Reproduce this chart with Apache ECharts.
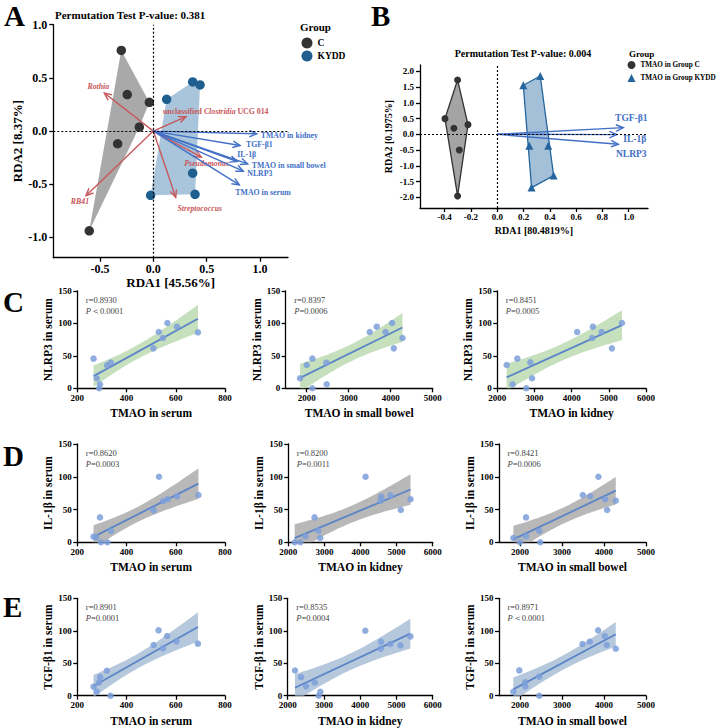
<!DOCTYPE html>
<html>
<head>
<meta charset="utf-8">
<script src="https://cdn.jsdelivr.net/npm/echarts@6/dist/echarts.min.js"></script>
<style>
  html, body { margin: 0; padding: 0; background: #fff; }
  #main { width: 719px; height: 728px; }
</style>
</head>
<body>
<div id="main"></div>
<script>
// ---------- panel A : RDA (microbiota) ----------
const aGroupC = [[-0.300, 0.758], [-0.244, 0.343], [-0.037, 0.270], [-0.131, 0.038], [-0.334, -0.119], [-0.600, -0.937]]
const aGroupKYDD = [[0.125, 0.299], [0.369, 0.462], [0.438, 0.434], [0.369, -0.396], [-0.025, -0.604], [0.391, -0.594]]
const aBacteria = ['Rothia', 'RB41', 'unclassified Clostridia UCG 014', 'Pseudomonas', 'Streptococcus']
const aBacX = [-0.459, -0.631, 0.306, 0.450, 0.210]
const aBacY = [0.358, -0.607, 0.136, -0.245, -0.623]
const aFactors = ['TMAO in kidney', 'TGF-β1', 'IL-1β', 'TMAO in small bowel', 'NLRP3', 'TMAO in serum']
const aFacX = [0.969, 0.813, 0.787, 0.885, 0.843, 0.806]
const aFacY = [-0.025, -0.135, -0.286, -0.308, -0.377, -0.506]

// ---------- panel B : RDA (TMAO groups) ----------
const bGroupC = [[-0.302, 1.725], [-0.398, 0.497], [-0.330, 0.190], [-0.223, 0.307], [-0.289, -0.497], [-0.302, -1.958]]
const bGroupKYDD = [[0.198, 1.556], [0.327, 1.852], [0.244, -0.360], [0.388, -0.360], [0.429, -1.312], [0.261, -1.693]]
const bFactors = ['TGF-β1', 'IL-1β', 'NLRP3']
const bFacX = [0.959, 0.909, 0.921]
const bFacY = [0.212, -0.010, -0.317]

// ---------- panels C-E : correlations (12 mice) ----------
const c1X = [266, 279, 292, 289, 321, 336, 509, 531, 548, 566, 605, 690]
const c1Y = [45.7, 15.4, 6.2, 0, 35.4, 39.5, 61.6, 86.8, 77.6, 100.7, 95, 86.3]
const c2X = [1842, 2000, 2135, 2135, 2469, 2477, 3501, 3668, 3875, 4034, 4074, 4280]
const c2Y = [15.4, 35.9, 45.7, 0, 39.5, 6.2, 86.8, 95, 86.8, 100.7, 61.6, 77.6]
const c3X = [2252, 2539, 2413, 2782, 2890, 2935, 4148, 4553, 4571, 4805, 5083, 5353]
const c3Y = [35.9, 45.7, 6.2, 0, 40, 15.4, 86.8, 77.6, 95, 86.8, 61.6, 100.7]
const d1X = [266, 276, 292, 296, 322, 337, 510, 532, 549, 567, 605, 692]
const d1Y = [8.6, 7.6, 38, 0, 0, 17.3, 48.8, 100, 63, 65.6, 70.2, 72.2]
const d2X = [2177, 2335, 2474, 2726, 2828, 2884, 4140, 4558, 4577, 4828, 5116, 5386]
const d2Y = [0, 0, 9.2, 38, 17.8, 6.6, 100, 63.5, 69.6, 71.7, 49.3, 65.6]
const d3X = [1842, 2000, 2143, 2143, 2459, 2483, 3496, 3670, 3867, 4027, 4074, 4280]
const d3Y = [6.6, 0, 38, 9.2, 17.3, 0, 72.2, 70.2, 100, 65.6, 49.3, 63.5]
const e1X = [266, 279, 288, 293, 320, 335, 510, 530, 548, 565, 603, 690]
const e1Y = [13.9, 6.2, 20.5, 28.8, 38.5, 0, 78, 100.7, 72.9, 91.9, 83.7, 80.1]
const e2X = [2202, 2368, 2506, 2745, 2855, 2901, 4142, 4566, 4575, 4832, 5108, 5384]
const e2Y = [38.8, 28.6, 14.3, 20.4, 0, 6.1, 100, 72.4, 83.1, 79.6, 77.6, 91.3]
const e3X = [1840, 1983, 2126, 2126, 2459, 2459, 3488, 3662, 3860, 4019, 4066, 4280]
const e3Y = [6.1, 39, 20.5, 14.3, 29.3, 0, 79.6, 83.2, 100.7, 91.9, 78, 72.3]

const rText = ['0.8930', '0.8397', '0.8451', '0.8620', '0.8200', '0.8421', '0.8901', '0.8535', '0.8971']
const pText = ['＜0.0001', '=0.0006', '=0.0005', '=0.0003', '=0.0011', '=0.0006', '=0.0001', '=0.0004', '＜0.0001']

const ticksSerum = [200, 400, 600, 800]
const ticksKidney = [2000, 3000, 4000, 5000, 6000]
const ticksBowel = [2000, 3000, 4000, 5000]
const ticksY = [0, 50, 100, 150]

const serif = 'Liberation Serif'

// layout of the 9 small panels: left, top, width, height, xmin, xmax
const scatterPanels = [
  { box: [77.3, 291, 147.7, 97.3], xr: [200, 800], ticks: ticksSerum, xs: c1X, ys: c1Y, xName: 'TMAO in serum', yName: 'NLRP3 in serum', band: '#bcdab2' },
  { box: [285.7, 291, 147, 97.3], xr: [1500, 5000], ticks: ticksBowel, xs: c2X, ys: c2Y, xName: 'TMAO in small bowel', yName: 'NLRP3 in serum', band: '#bcdab2' },
  { box: [497.3, 291, 148.7, 97.3], xr: [2000, 6000], ticks: ticksKidney, xs: c3X, ys: c3Y, xName: 'TMAO in kidney', yName: 'NLRP3 in serum', band: '#bcdab2' },
  { box: [77.3, 444, 147.7, 98.3], xr: [200, 800], ticks: ticksSerum, xs: d1X, ys: d1Y, xName: 'TMAO in serum', yName: 'IL-1β in serum', band: '#acacac' },
  { box: [288.3, 444, 144.4, 98.3], xr: [2000, 6000], ticks: ticksKidney, xs: d2X, ys: d2Y, xName: 'TMAO in kidney', yName: 'IL-1β in serum', band: '#acacac' },
  { box: [499, 444, 147, 98.3], xr: [1500, 5000], ticks: ticksBowel, xs: d3X, ys: d3Y, xName: 'TMAO in small bowel', yName: 'IL-1β in serum', band: '#acacac' },
  { box: [77.3, 598.3, 147.7, 97.4], xr: [200, 800], ticks: ticksSerum, xs: e1X, ys: e1Y, xName: 'TMAO in serum', yName: 'TGF-β1 in serum', band: '#a9bed6' },
  { box: [287.7, 598.3, 145, 97.4], xr: [2000, 6000], ticks: ticksKidney, xs: e2X, ys: e2Y, xName: 'TMAO in kidney', yName: 'TGF-β1 in serum', band: '#a9bed6' },
  { box: [499, 598.3, 147, 97.4], xr: [1500, 5000], ticks: ticksBowel, xs: e3X, ys: e3Y, xName: 'TMAO in small bowel', yName: 'TGF-β1 in serum', band: '#a9bed6' }
]

// label offsets (px) from arrow tips: dx, dy, align
const aBacLabelPos = [[-6, -7, 'center'], [-6, 6, 'center'], [-23, -5, 'left'], [-17, 6, 'left'], [24, 11, 'center']]
const aFacLabelPos = [[4, 1.5, 'left'], [6, -0.5, 'left'], [0, -7, 'left'], [4, 1.5, 'left'], [4, 2.5, 'left'], [-4, 8, 'left']]
const bFacLabelPos = [[8, -10, 'center'], [18, 4.5, 'center'], [13, 9.5, 'center']]

function zip(xs, ys) {
  return xs.map((x, i) => [x, ys[i]])
}

function convexHull(pts) {
  const p = pts.slice().sort((a, b) => a[0] - b[0] || a[1] - b[1])
  const cross = (o, a, b) => (a[0] - o[0]) * (b[1] - o[1]) - (a[1] - o[1]) * (b[0] - o[0])
  const lower = [], upper = []
  p.forEach(q => {
    while (lower.length >= 2 && cross(lower[lower.length - 2], lower[lower.length - 1], q) <= 0) lower.pop()
    lower.push(q)
  })
  p.slice().reverse().forEach(q => {
    while (upper.length >= 2 && cross(upper[upper.length - 2], upper[upper.length - 1], q) <= 0) upper.pop()
    upper.push(q)
  })
  return lower.slice(0, -1).concat(upper.slice(0, -1))
}

// linear fit + 95% confidence band of the mean
function fitBand(xs, ys) {
  const n = xs.length
  const mx = xs.reduce((s, v) => s + v, 0) / n
  const my = ys.reduce((s, v) => s + v, 0) / n
  let sxx = 0, sxy = 0
  xs.forEach((x, i) => { sxx += (x - mx) * (x - mx); sxy += (x - mx) * (ys[i] - my) })
  const b = sxy / sxx, a = my - b * mx
  let sse = 0
  xs.forEach((x, i) => { const r = ys[i] - (a + b * x); sse += r * r })
  const s = Math.sqrt(sse / (n - 2))
  const t = 2.228 // df = 10
  const lo = Math.min(...xs), hi = Math.max(...xs)
  const upper = [], lower = []
  for (let j = 0; j <= 40; j++) {
    const x = lo + (hi - lo) * j / 40
    const yh = a + b * x
    const se = s * Math.sqrt(1 / n + (x - mx) * (x - mx) / sxx)
    upper.push([x, yh + t * se])
    lower.push([x, yh - t * se])
  }
  return { line: [[lo, a + b * lo], [hi, a + b * hi]], upper, lower }
}

function axisBase(gi, min, max, ticks, fmt, fontSize, margin, tickLen) {
  return {
    gridIndex: gi, type: 'value', min: min, max: max,
    axisLine: { show: true, onZero: false, lineStyle: { color: '#000', width: 1.3 } },
    axisTick: { show: true, length: tickLen, customValues: ticks, lineStyle: { color: '#000', width: 1.3 } },
    axisLabel: { customValues: ticks, formatter: fmt, fontFamily: serif, fontWeight: 'bold', fontSize: fontSize, color: '#000', margin: margin },
    splitLine: { show: false },
    nameLocation: 'middle',
    nameTextStyle: { fontFamily: serif, fontWeight: 'bold', color: '#000' }
  }
}

const fix1 = v => v.toFixed(1)
const plain = v => String(v)
const grids = [], xAxes = [], yAxes = [], series = [], graphics = []

// ----- A -----
grids.push({ left: 53.3, top: 24.7, width: 234.7, height: 233 })
xAxes.push(Object.assign(axisBase(0, -0.937, 1.262, [-0.5, 0, 0.5, 1.0], fix1, 12, 5, 4),
  { name: 'RDA1 [45.56%]', nameGap: 15, nameTextStyle: { fontFamily: serif, fontWeight: 'bold', fontSize: 13, color: '#000' } }))
yAxes.push(Object.assign(axisBase(0, -1.19, 1.0, [-1.0, -0.5, 0, 0.5, 1.0], fix1, 12, 6, 4),
  { name: 'RDA2 [8.37%]', nameGap: 19, nameTextStyle: { fontFamily: serif, fontWeight: 'bold', fontSize: 13, color: '#000' } }))

// ----- B -----
grids.push({ left: 420, top: 65, width: 228, height: 143 })
xAxes.push(Object.assign(axisBase(1, -0.588, 1.147, [-0.4, -0.2, 0, 0.2, 0.4, 0.6, 0.8, 1.0], fix1, 9, 4, 4),
  { name: 'RDA1 [80.4819%]', nameGap: 17, nameTextStyle: { fontFamily: serif, fontWeight: 'bold', fontSize: 10, color: '#000' } }))
yAxes.push(Object.assign(axisBase(1, -2.34, 2.2, [-2, -1.5, -1, -0.5, 0, 0.5, 1, 1.5, 2], fix1, 9, 6, 4),
  { name: 'RDA2 [0.1975%]', nameGap: 27, nameTextStyle: { fontFamily: serif, fontWeight: 'bold', fontSize: 10, color: '#000' } }))

function hullSeries(gi, pts, fill, stroke) {
  const hull = convexHull(pts)
  return {
    type: 'custom', xAxisIndex: gi, yAxisIndex: gi, silent: true, z: 1,
    data: [[0, 0]],
    renderItem: (params, api) => ({
      type: 'polygon',
      shape: { points: hull.map(p => api.coord(p)) },
      style: { fill: fill, stroke: stroke || null, lineWidth: stroke ? 1.3 : 0 }
    })
  }
}

function richLabel(name) {
  if (name.indexOf('unclassified') === 0) {
    const parts = name.split(' ')
    return '{n|' + parts[0] + ' }{i|' + parts[1] + '}{n| ' + parts.slice(2).join(' ') + '}'
  }
  return '{i|' + name + '}'
}

function arrowSeries(gi, xs, ys, names, pos, color, font, italic) {
  return {
    type: 'custom', xAxisIndex: gi, yAxisIndex: gi, silent: true, z: 3,
    encode: { x: 0, y: 1 },
    data: zip(xs, ys),
    renderItem: (params, api) => {
      const i = params.dataIndex
      const o = api.coord([0, 0])
      const p = api.coord([api.value(0), api.value(1)])
      const ang = Math.atan2(p[1] - o[1], p[0] - o[0])
      const h = 8, sp = 0.42
      const h1 = [p[0] - h * Math.cos(ang - sp), p[1] - h * Math.sin(ang - sp)]
      const h2 = [p[0] - h * Math.cos(ang + sp), p[1] - h * Math.sin(ang + sp)]
      const lp = pos[i]
      const textStyle = italic
        ? { text: richLabel(names[i]), rich: {
              n: { fontFamily: serif, fontWeight: 'bold', fontSize: font, fill: color },
              i: { fontFamily: serif, fontWeight: 'bold', fontStyle: 'italic', fontSize: font, fill: color } } }
        : { text: names[i], fontFamily: serif, fontWeight: 'bold', fontSize: font, fill: color }
      textStyle.align = lp[2]
      textStyle.verticalAlign = 'middle'
      return {
        type: 'group',
        children: [
          { type: 'line', shape: { x1: o[0], y1: o[1], x2: p[0], y2: p[1] }, style: { stroke: color, lineWidth: 1.4 } },
          { type: 'polyline', shape: { points: [h1, p, h2] }, style: { stroke: color, fill: null, lineWidth: 1.4 } },
          { type: 'text', x: p[0] + lp[0], y: p[1] + lp[1], style: textStyle }
        ]
      }
    }
  }
}

const zeroLines = {
  silent: true, symbol: 'none', label: { show: false },
  lineStyle: { color: '#000', type: [2, 2], width: 1.2 },
  data: [{ xAxis: 0 }, { yAxis: 0 }]
}

series.push(hullSeries(0, aGroupC, '#a9a9a9'))
series.push(hullSeries(0, aGroupKYDD, '#a8c5db'))
series.push({ type: 'scatter', xAxisIndex: 0, yAxisIndex: 0, data: [], markLine: zeroLines, z: 2 })
series.push(arrowSeries(0, aBacX, aBacY, aBacteria, aBacLabelPos, '#c8575a', 7.8, true))
series.push(arrowSeries(0, aFacX, aFacY, aFactors, aFacLabelPos, '#4270c6', 7.8, false))
series.push({ type: 'scatter', name: 'C', xAxisIndex: 0, yAxisIndex: 0, data: aGroupC, symbol: 'circle', symbolSize: 9.5, itemStyle: { color: '#333333', opacity: 1 }, z: 4 })
series.push({ type: 'scatter', name: 'KYDD', xAxisIndex: 0, yAxisIndex: 0, data: aGroupKYDD, symbol: 'circle', symbolSize: 9.5, itemStyle: { color: '#1f5f8f', opacity: 1 }, z: 4 })

series.push(hullSeries(1, bGroupC, '#a4a4a4', '#333333'))
series.push(hullSeries(1, bGroupKYDD, '#a3c0d8', '#23659c'))
series.push({ type: 'scatter', xAxisIndex: 1, yAxisIndex: 1, data: [], markLine: zeroLines, z: 2 })
series.push(arrowSeries(1, bFacX, bFacY, bFactors, bFacLabelPos, '#4270c6', 9.5, false))
series.push({ type: 'scatter', name: 'TMAO in Group C', xAxisIndex: 1, yAxisIndex: 1, data: bGroupC, symbol: 'circle', symbolSize: 7, itemStyle: { color: '#333333', opacity: 1 }, z: 4 })
series.push({ type: 'scatter', name: 'TMAO in Group KYDD', xAxisIndex: 1, yAxisIndex: 1, data: bGroupKYDD, symbol: 'triangle', symbolSize: 8, itemStyle: { color: '#23659c', opacity: 1 }, z: 4 })

// ----- C, D, E -----
scatterPanels.forEach((sp, k) => {
  const gi = k + 2
  const b = sp.box
  grids.push({ left: b[0], top: b[1], width: b[2], height: b[3] })
  xAxes.push(Object.assign(axisBase(gi, sp.xr[0], sp.xr[1], sp.ticks, plain, 9, 5, 4),
    { name: sp.xName, nameGap: 19, nameTextStyle: { fontFamily: serif, fontWeight: 'bold', fontSize: 11.5, color: '#000' } }))
  yAxes.push(Object.assign(axisBase(gi, 0, 150, ticksY, plain, 9, 5.5, 4),
    { name: sp.yName, nameGap: 21, nameTextStyle: { fontFamily: serif, fontWeight: 'bold', fontSize: 11.5, color: '#000' } }))
  const fit = fitBand(sp.xs, sp.ys)
  series.push({
    type: 'custom', xAxisIndex: gi, yAxisIndex: gi, silent: true, clip: true, z: 1,
    data: [[0, 0]],
    renderItem: (params, api) => ({
      type: 'polygon',
      shape: { points: fit.upper.concat(fit.lower.slice().reverse()).map(p => api.coord(p)) },
      style: { fill: sp.band, opacity: 0.85 }
    })
  })
  series.push({
    type: 'line', xAxisIndex: gi, yAxisIndex: gi, data: fit.line, showSymbol: false, silent: true, z: 2,
    lineStyle: { color: '#5b85c6', width: 1.8 }
  })
  series.push({
    type: 'scatter', xAxisIndex: gi, yAxisIndex: gi, data: zip(sp.xs, sp.ys), symbolSize: 6.5, z: 3,
    itemStyle: { color: '#7d9fdb', opacity: 0.85 }
  })
  graphics.push({ type: 'text', x: b[0] + 8.5, y: b[1] + 8.5,
    style: { text: 'r=' + rText[k], fontFamily: serif, fontSize: 8.5, fill: '#444', verticalAlign: 'middle' } })
  graphics.push({ type: 'text', x: b[0] + 8.5, y: b[1] + 19.5,
    style: { text: '{i|P}{n|' + pText[k] + '}', verticalAlign: 'middle',
      rich: { i: { fontFamily: serif, fontStyle: 'italic', fontSize: 8.5, fill: '#444' },
              n: { fontFamily: serif, fontSize: 8.5, fill: '#444' } } } })
})

// panel letters and headings
const letterFont = { fontFamily: serif, fontWeight: 'bold', fontSize: 29, fill: '#000', verticalAlign: 'middle' }
;[['A', 4, 16], ['B', 371, 16], ['C', 3, 302], ['D', 3, 456], ['E', 3, 607]].forEach(l => {
  graphics.push({ type: 'text', x: l[1], y: l[2], style: Object.assign({ text: l[0] }, letterFont) })
})
graphics.push({ type: 'text', x: 55, y: 15, style: { text: 'Permutation Test P-value: 0.381', fontFamily: serif, fontWeight: 'bold', fontSize: 11, fill: '#000', verticalAlign: 'middle' } })
graphics.push({ type: 'text', x: 523, y: 53, style: { text: 'Permutation Test P-value: 0.004', fontFamily: serif, fontWeight: 'bold', fontSize: 10, fill: '#000', align: 'center', verticalAlign: 'middle' } })
graphics.push({ type: 'text', x: 300, y: 27, style: { text: 'Group', fontFamily: serif, fontWeight: 'bold', fontSize: 11, fill: '#000', verticalAlign: 'middle' } })
graphics.push({ type: 'text', x: 629, y: 54, style: { text: 'Group', fontFamily: serif, fontWeight: 'bold', fontSize: 9, fill: '#000', verticalAlign: 'middle' } })

const chart = echarts.init(document.getElementById('main'), null, { renderer: 'svg', width: 719, height: 728 })
chart.setOption({
  animation: false,
  backgroundColor: '#fff',
  grid: grids.map(g => Object.assign({ outerBoundsMode: 'none', containLabel: false }, g)),
  xAxis: xAxes,
  yAxis: yAxes,
  legend: [
    { data: ['C', 'KYDD'], orient: 'vertical', left: 301.5, top: 37.5, padding: 0, itemWidth: 11, itemHeight: 11, itemGap: 2,
      textStyle: { fontFamily: serif, fontWeight: 'bold', fontSize: 9.5, color: '#000' }, selectedMode: false },
    { data: ['TMAO in Group C', 'TMAO in Group KYDD'], orient: 'vertical', left: 627.5, top: 61, padding: 0, itemWidth: 8, itemHeight: 8, itemGap: 5,
      textStyle: { fontFamily: serif, fontWeight: 'bold', fontSize: 7.2, color: '#000' }, selectedMode: false }
  ],
  graphic: graphics,
  series: series
})
</script>
</body>
</html>
